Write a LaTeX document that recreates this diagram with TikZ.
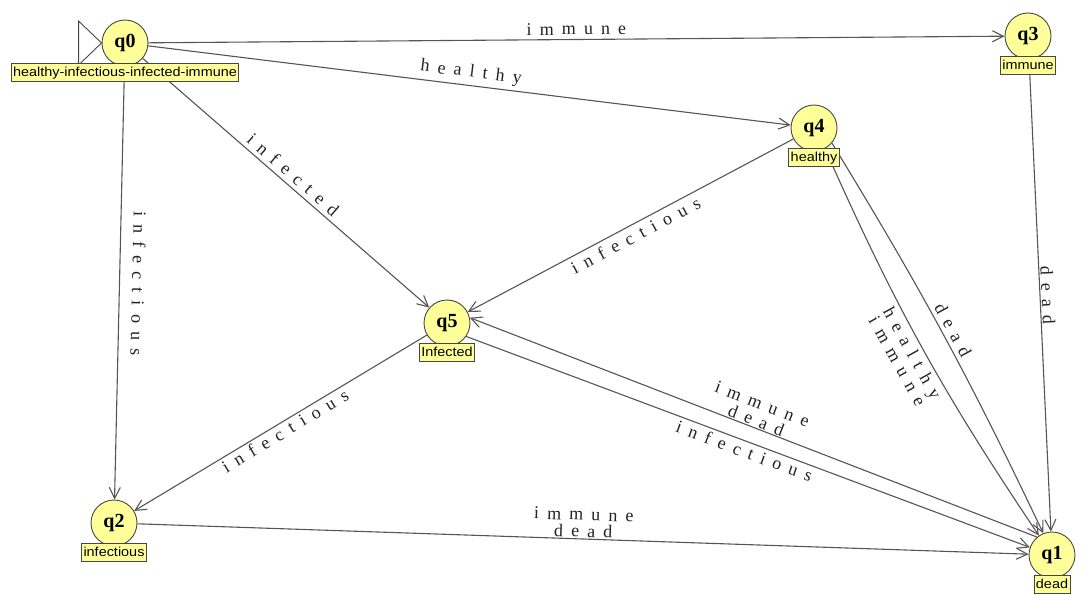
\documentclass[tikz,border=0pt]{standalone}
\usepackage{fontspec}
\setmainfont{Liberation Serif}
\newfontfamily\edgefont[LetterSpace=45]{Liberation Serif}
\newfontfamily\lblfont[FakeStretch=1.11]{Liberation Sans}
\usetikzlibrary{arrows.meta,calc}
\pgfdeclarelayer{bg}
\pgfsetlayers{bg,main}
\definecolor{stfill}{RGB}{255,255,153}
\definecolor{stline}{RGB}{70,70,70}
\definecolor{edgecol}{RGB}{85,85,85}
\definecolor{txtcol}{RGB}{35,35,35}
\begin{document}
\begin{tikzpicture}[x=1pt,y=-1pt,
  state/.style={circle, draw=stline, fill=stfill, line width=0.9pt, minimum size=46pt, inner sep=0pt, font=\fontsize{20}{20}\selectfont\bfseries},
  slabel/.style={draw=stline, fill=stfill, line width=0.9pt, inner xsep=2pt, inner ysep=2.5pt, text height=10pt, text depth=3pt, font=\lblfont\fontsize{13}{13}\selectfont, anchor=north},
  trans/.style={draw=edgecol, line width=1.1pt, -{Straight Barb[length=11pt,width=11pt]}},
  elabel/.style={font=\edgefont\fontsize{18}{17}\selectfont, text=txtcol, sloped, inner sep=4pt, align=center},
  init/.style={draw=stline, fill=white, line width=0.9pt}
]
\useasboundingbox (0,0) rectangle (1084,594);
% states
\node[state] (q0) at (125,43) {q0};
\node[state] (q3) at (1028,36) {q3};
\node[state] (q4) at (814,128) {q4};
\node[state] (q5) at (447,323) {q5};
\node[state] (q2) at (114,523) {q2};
\node[state] (q1) at (1052,555) {q1};
% initial marker
\draw[init] (q0.west) -- ++(-23,-22) -- ++(0,44) -- cycle;
% state labels
\node[slabel] (l0) at ([yshift=3pt]q0.south) {healthy-infectious-infected-immune};
\node[slabel] (l3) at ([yshift=3pt]q3.south) {immune};
\node[slabel] (l4) at ([yshift=3pt]q4.south) {healthy};
\node[slabel] (l5) at ([yshift=3pt]q5.south) {Infected};
\node[slabel] (l2) at ([yshift=3pt]q2.south) {infectious};
\node[slabel] (l1) at ([yshift=3pt]q1.south) {dead};
% transitions
\begin{pgfonlayer}{bg}
\draw[trans] (q0) -- node[elabel, above] (e1) {immune} (q3);
\draw[trans] (q0) -- node[elabel, above] (e2) {healthy} (q4);
\draw[trans] (q0) -- node[elabel, above] (e3) {infected} (q5);
\draw[trans] (q0) -- node[elabel, above, allow upside down, inner sep=12pt] (e4) {infectious} (q2);
\draw[trans] (q4) -- node[elabel, below] (e5) {infectious} (q5);
\draw[trans] (q4.-40) to[bend left=3] node[elabel, above] (e6) {dead} (q1.112);
\draw[trans] (q4.-62) to[bend right=5] node[elabel, below] (e7) {healthy\\immune} (q1.124);
\draw[trans] (q3) -- node[elabel, above, inner sep=1pt] (e8) {dead} (q1);
\draw[trans] (q5) -- node[elabel, below, inner sep=2pt] (e9) {infectious} (q2);
\draw[trans] (q1.130) -- node[elabel, above, inner sep=1pt] (e10) {immune\\dead} (q5.13);
\draw[trans] (q5.-35) -- node[elabel, below, inner sep=3pt] (e11) {infectious} (q1.161);
\draw[trans] (q2) -- node[elabel, above, inner sep=1pt] (e12) {immune\\dead} (q1);
\end{pgfonlayer}
\end{tikzpicture}
\end{document}
